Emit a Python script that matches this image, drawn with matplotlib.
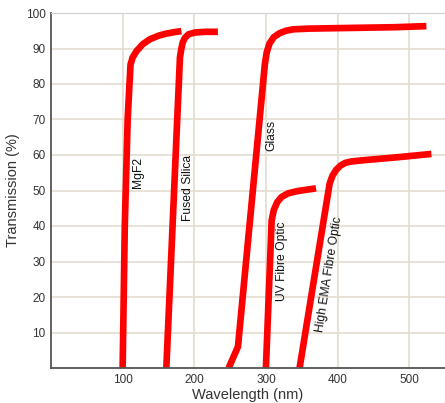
import matplotlib
matplotlib.use("Agg")
import matplotlib.pyplot as plt

plt.rcParams['font.family'] = ['Liberation Sans', 'DejaVu Sans']

# Curve data (wavelength nm, transmission %)
mgf2_x = [100, 103, 107, 111, 114, 119.5, 128, 138, 150, 161, 172, 182]
mgf2_y = [0, 40, 70, 85.5, 87.5, 89.3, 91.2, 92.6, 93.6, 94.2, 94.6, 94.9]

fused_x = [161, 180, 182, 184, 187, 192, 201, 215, 233]
fused_y = [0, 87.5, 90, 91.8, 93.0, 94.0, 94.5, 94.7, 94.7]

glass_x = [248, 261, 298.5, 301, 305, 311, 319, 328, 338, 360, 420, 480, 524]
glass_y = [0, 6, 85.5, 88.8, 91.4, 93.2, 94.3, 95.0, 95.4, 95.6, 95.8, 96.0, 96.3]

uv_x = [300, 308, 311, 316, 322, 331, 343, 356, 370]
uv_y = [0, 41.5, 44.5, 46.8, 48.2, 49.2, 49.8, 50.2, 50.6]

ema_x = [347, 389, 393, 398, 404, 411, 420, 440, 480, 531]
ema_y = [0, 52, 54.2, 55.8, 57.0, 57.8, 58.2, 58.6, 59.3, 60.3]

xticks = [100, 200, 300, 400, 500]
yticks = [10, 20, 30, 40, 50, 60, 70, 80, 90, 100]

curves = [(mgf2_x, mgf2_y), (fused_x, fused_y), (glass_x, glass_y), (uv_x, uv_y), (ema_x, ema_y)]

fig = plt.figure(figsize=(4.45, 4.03), dpi=100)
ax = fig.add_axes([51/445, 35/403, 394/445, 355/403])
ax.set_xlim(0, 550)
ax.set_ylim(0, 100)
ax.set_xticks(xticks)
ax.set_yticks(yticks)
ax.grid(True, color='#e4dccf', linewidth=1.2)
ax.set_axisbelow(True)
ax.tick_params(length=0, labelsize=8.5, colors='#333333', pad=4)
ax.spines['right'].set_visible(False)
ax.spines['top'].set_color('#d0d0d0')
ax.spines['left'].set_color('#555555')
ax.spines['bottom'].set_color('#555555')
ax.spines['left'].set_linewidth(1.3)
ax.spines['bottom'].set_linewidth(1.3)

for cx, cy in curves:
    ax.plot(cx, cy, color='#ff0000', linewidth=4.8, solid_joinstyle='round', solid_capstyle='butt')

ax.set_xlabel('Wavelength (nm)', fontsize=10.5, color='#333333', labelpad=2)
ax.set_ylabel('Transmission (%)', fontsize=10.5, color='#333333', labelpad=4)

txt = dict(fontsize=8.7, color='#111111', ha='center', va='center', rotation_mode='anchor')
ax.text(122, 55, 'MgF2', rotation=90, **txt)
ax.text(191.5, 50.7, 'Fused Silica', rotation=90, **txt)
ax.text(307, 65.6, 'Glass', rotation=90, **txt)
ax.text(322, 30, 'UV Fibre Optic', rotation=90, **txt)
ax.text(389, 26.5, 'High EMA Fibre Optic', rotation=81, **txt)

fig.savefig('out.png', dpi=100)
